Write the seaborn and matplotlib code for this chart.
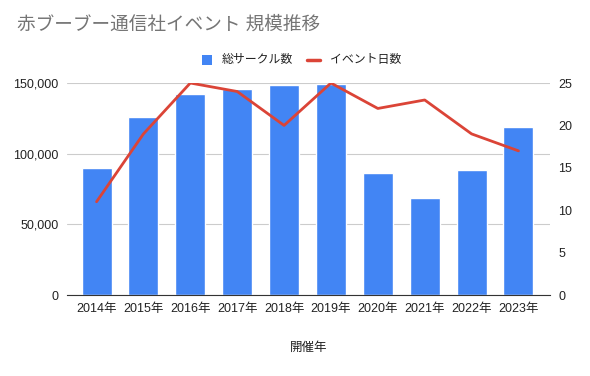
import pandas as pd
import numpy as np
import matplotlib.pyplot as plt
import seaborn as sns

years = ['2014年', '2015年', '2016年', '2017年', '2018年',
         '2019年', '2020年', '2021年', '2022年', '2023年']
circles = [89600, 125700, 142200, 145700, 148600, 149300, 86100, 68600, 88400, 118600]
days = [11, 19, 25, 24, 20, 25, 22, 23, 19, 17]

df = pd.DataFrame({'year': years, 'circles': circles, 'days': days})

sns.set_style('white')
plt.rcParams['font.family'] = ['Liberation Sans', 'Noto Sans CJK JP', 'DejaVu Sans']

fig = plt.figure(figsize=(5.9, 3.76), dpi=100)
ax = fig.add_axes([0.1136, 0.2154, 0.8184, 0.5638])

sns.barplot(data=df, x='year', y='circles', color='#4285F4', saturation=1,
            width=0.64, ax=ax, zorder=2)
ax.set_ylim(0, 150000)
ax.set_yticks([0, 50000, 100000, 150000])
ax.set_yticklabels(['0', '50,000', '100,000', '150,000'])
ax.yaxis.grid(True, color='#cccccc', linewidth=0.8, zorder=0)
ax.set_axisbelow(True)
ax.set_xlim(-0.63, 9.67)
for s in ['top', 'right', 'left']:
    ax.spines[s].set_visible(False)
ax.spines['bottom'].set_color('#333333')
ax.tick_params(axis='both', length=0, labelsize=9, labelcolor='#222222')
ax.tick_params(axis='x', pad=6)
ax.tick_params(axis='y', pad=6)
ax.set_ylabel('')
ax.set_xlabel('開催年', fontsize=9, color='#222222', labelpad=19)

ax2 = ax.twinx()
sns.lineplot(x=np.arange(len(years)), y=days, color='#DB4437', linewidth=2, ax=ax2)
ax2.set_ylim(0, 25)
ax2.set_yticks([0, 5, 10, 15, 20, 25])
ax2.set_xlim(-0.63, 9.67)
for s in ['top', 'right', 'left', 'bottom']:
    ax2.spines[s].set_visible(False)
ax2.tick_params(axis='y', length=0, labelsize=9, labelcolor='#222222', pad=6)

fig.text(0.029, 0.933, '赤ブーブー通信社イベント 規模推移', fontsize=13.4, color='#757575',
         va='center', ha='left')

# legend
fig.patches.append(plt.Rectangle((0.342, 0.827), 0.0169, 0.0266, transform=fig.transFigure,
                                 facecolor='#4285F4', edgecolor='none'))
fig.text(0.376, 0.841, '総サークル数', fontsize=8.6, color='#222222', va='center', ha='left')
fig.lines.append(plt.Line2D([0.520, 0.542], [0.841, 0.841], transform=fig.transFigure,
                            color='#DB4437', linewidth=2.5))
fig.text(0.559, 0.841, 'イベント日数', fontsize=8.6, color='#222222', va='center', ha='left')

fig.savefig('out.png', dpi=100, facecolor='white')
